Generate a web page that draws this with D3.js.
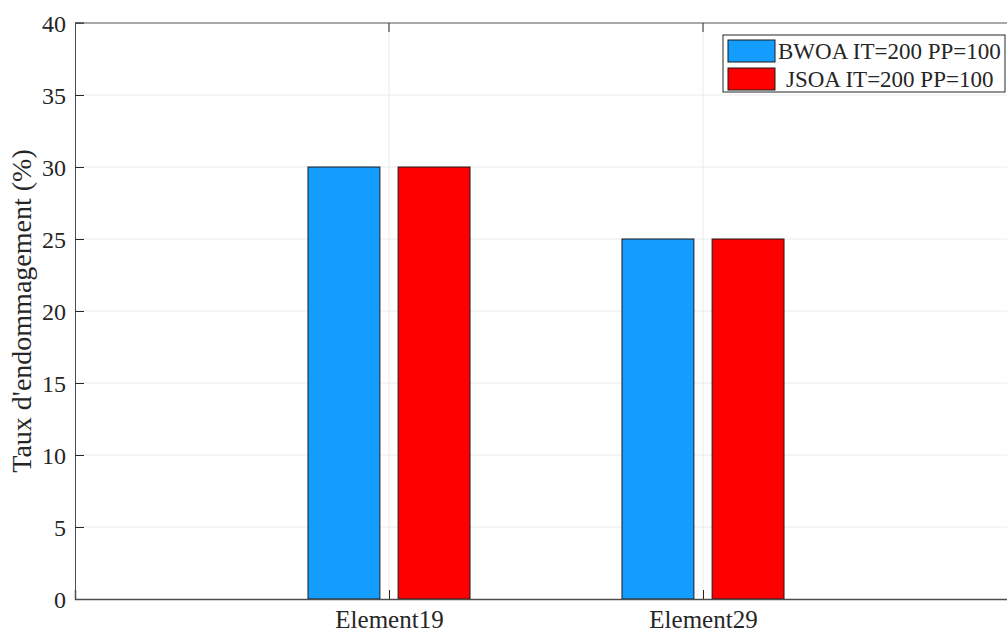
<!DOCTYPE html>
<html>
<head>
<meta charset="utf-8">
<script src="https://cdn.jsdelivr.net/npm/d3@7"></script>
<style>
  html, body { margin: 0; padding: 0; background: #fff; }
  svg { display: block; }
  text { font-family: "Liberation Serif", "Times New Roman", serif; fill: #262626; }
</style>
</head>
<body>
<svg id="chart" width="1007" height="632"></svg>
<script>
// Damage rate per element, for each optimiser
const categories = ["Element19", "Element29"];
const seriesNames = ["BWOA IT=200 PP=100", "JSOA IT=200 PP=100"];
const bwoaValues = [30, 25];
const jsoaValues = [30, 25];
const seriesColors = ["#139dff", "#ff0000"];
const yTicks = [0, 5, 10, 15, 20, 25, 30, 35, 40];
const yLabel = "Taux d'endommagement (%)";

const series = [bwoaValues, jsoaValues];
const serif = "Liberation Serif, Times New Roman, serif";

const svg = d3.select("#chart");
const plotLeft = 75, plotRight = 1017, plotTop = 23, plotBottom = 599;

// Categories sit at positions 1..n on a [0, n+1] axis
const x = d3.scaleLinear().domain([0, categories.length + 1]).range([plotLeft, plotRight]);
const y = d3.scaleLinear().domain([0, 40]).range([plotBottom, plotTop]);

const unit = x(1) - x(0);
const barW = unit * 0.229;
const offset = unit * 0.1435;

// grid
const g = svg.append("g");
g.selectAll("line.hg").data(yTicks.filter(t => t > 0 && t < 40)).enter().append("line")
  .attr("x1", plotLeft).attr("x2", plotRight)
  .attr("y1", d => y(d)).attr("y2", d => y(d))
  .attr("stroke", "#ebebeb").attr("stroke-width", 1);
g.selectAll("line.vg").data(categories).enter().append("line")
  .attr("x1", (d, i) => x(i + 1)).attr("x2", (d, i) => x(i + 1))
  .attr("y1", plotTop).attr("y2", plotBottom)
  .attr("stroke", "#ebebeb").attr("stroke-width", 1);

// bars
series.forEach((vals, s) => {
  svg.append("g").selectAll("rect").data(vals).enter().append("rect")
    .attr("x", (d, i) => x(i + 1) + (s === 0 ? -offset : offset) - barW / 2)
    .attr("y", d => y(d))
    .attr("width", barW)
    .attr("height", d => y(0) - y(d))
    .attr("fill", seriesColors[s])
    .attr("stroke", "#1a1a1a").attr("stroke-width", 1);
});

// axes
const yAxis = d3.axisLeft(y).tickValues(yTicks).tickSize(-9).tickPadding(20);
const ya = svg.append("g").attr("transform", `translate(${plotLeft},0)`).call(yAxis)
  .attr("font-family", serif);
ya.select(".domain").attr("stroke", "#4d4d4d");
ya.selectAll(".tick line").attr("stroke", "#262626");
ya.selectAll(".tick text").attr("font-size", 24).attr("x", -9).attr("dy", "0.34em")
  .attr("fill", "#262626").style("font-family", serif);

const xAxis = d3.axisBottom(x).tickValues(categories.map((d, i) => i + 1))
  .tickFormat((d, i) => categories[i]).tickSize(-9).tickPadding(12);
const xa = svg.append("g").attr("transform", `translate(0,${plotBottom})`).call(xAxis)
  .attr("font-family", serif);
xa.select(".domain").attr("stroke", "#4d4d4d").attr("stroke-width", 1.5);
xa.selectAll(".tick line").attr("stroke", "#262626");
xa.selectAll(".tick text").attr("font-size", 25).attr("y", 29).attr("dy", 0)
  .attr("fill", "#262626").style("font-family", serif);

// top border with ticks
svg.append("line").attr("x1", plotLeft).attr("x2", plotRight).attr("y1", plotTop).attr("y2", plotTop)
  .attr("stroke", "#8c8c8c").attr("stroke-width", 1.5);
svg.append("g").selectAll("line").data(categories).enter().append("line")
  .attr("x1", (d, i) => x(i + 1)).attr("x2", (d, i) => x(i + 1))
  .attr("y1", plotTop).attr("y2", plotTop + 9).attr("stroke", "#262626");
svg.append("line").attr("x1", plotLeft).attr("x2", plotLeft + 9).attr("y1", plotTop).attr("y2", plotTop)
  .attr("stroke", "#262626");

// y label
svg.append("text")
  .attr("transform", `translate(31,${(plotTop + plotBottom) / 2}) rotate(-90)`)
  .attr("text-anchor", "middle").attr("font-size", 28)
  .text(yLabel);

// legend
const lg = svg.append("g").attr("transform", "translate(723,35)");
lg.append("rect").attr("width", 282).attr("height", 57)
  .attr("fill", "#fff").attr("stroke", "#262626").attr("stroke-width", 1);
seriesNames.forEach((name, i) => {
  lg.append("rect").attr("x", 5).attr("y", 5 + i * 28).attr("width", 47).attr("height", 22)
    .attr("fill", seriesColors[i]).attr("stroke", "#1a1a1a").attr("stroke-width", 1);
  lg.append("text").attr("x", i === 0 ? 55 : 63).attr("y", 24 + i * 28)
    .attr("font-size", 23).text(name);
});
</script>
</body>
</html>
